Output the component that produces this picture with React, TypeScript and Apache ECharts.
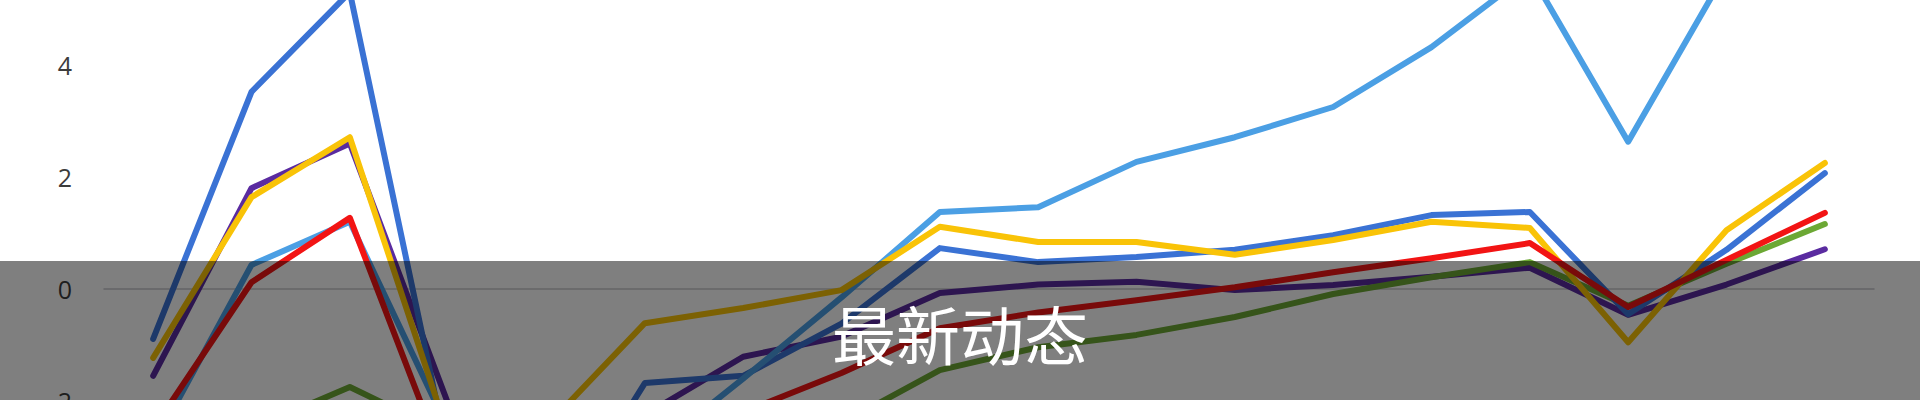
import React, { useEffect, useRef } from "react";
import * as echarts from "echarts";

const categories = ["1", "2", "3", "4", "5", "6", "7", "8", "9", "10", "11", "12", "13", "14", "15", "16", "17", "18"];

const purpleValues = [-1.55, 1.8, 2.6, -2.05, -2.6, -2.25, -1.21, -0.85, -0.07, 0.08, 0.13, -0.02, 0.07, 0.22, 0.38, -0.46, 0.08, 0.71];
const greenValues = [-2.8, -2.5, -1.75, -2.6, -2.9, -2.8, -2.6, -2.4, -1.45, -1.04, -0.82, -0.5, -0.09, 0.21, 0.48, -0.3, 0.45, 1.16];
const darkBlueValues = [-0.89, 3.52, 5.3, -3.0, -4.5, -1.68, -1.55, -0.62, 0.73, 0.48, 0.57, 0.7, 0.96, 1.32, 1.375, -0.45, 0.7, 2.07];
const lightBlueValues = [-2.8, 0.43, 1.2, -2.5, -3.2, -3.0, -1.6, -0.15, 1.375, 1.46, 2.27, 2.71, 3.25, 4.32, 5.65, 2.63, 5.68, 6.2];
const yellowValues = [-1.23, 1.64, 2.71, -2.6, -2.45, -0.61, -0.34, -0.02, 1.11, 0.84, 0.84, 0.61, 0.875, 1.2, 1.09, -0.95, 1.05, 2.25];
const redValues = [-2.5, 0.12, 1.27, -3.3, -3.3, -2.8, -2.2, -1.5, -0.7, -0.42, -0.2, 0.03, 0.3, 0.55, 0.82, -0.32, 0.52, 1.36];

const visibleTickLabels = [-2, 0, 2, 4];

const seriesDefs = [
  { name: "紫", color: "#5a2ba0", data: purpleValues },
  { name: "绿", color: "#6ca834", data: greenValues },
  { name: "深蓝", color: "#3a72d4", data: darkBlueValues },
  { name: "浅蓝", color: "#4b9fe4", data: lightBlueValues },
  { name: "黄", color: "#f9c307", data: yellowValues },
  { name: "红", color: "#f21414", data: redValues },
];

const overlayTitle = "最新动态";

export default function App() {
  const ref = useRef<HTMLDivElement>(null);

  useEffect(() => {
    if (!ref.current) return;
    const chart = echarts.init(ref.current, null, { renderer: "svg" });
    chart.setOption({
      animation: false,
      backgroundColor: "#ffffff",
      grid: {
        left: 104,
        right: 46,
        top: -47,
        bottom: -113,
        containLabel: false,
        outerBoundsMode: "none",
      },
      xAxis: {
        type: "category",
        data: categories,
        boundaryGap: true,
        axisLine: { show: true, onZero: true, lineStyle: { color: "#c8c8cc", width: 1.5 } },
        axisTick: { show: false },
        axisLabel: { show: false },
        splitLine: { show: false },
      },
      yAxis: {
        type: "value",
        min: -4,
        max: 6,
        interval: 2,
        axisLine: { show: false },
        axisTick: { show: false },
        splitLine: { show: false },
        axisLabel: {
          color: "#3c3c3c",
          fontSize: 25,
          fontFamily: "Open Sans",
          margin: 32,
          formatter: (v: number) => (visibleTickLabels.indexOf(v) >= 0 ? String(v) : ""),
        },
      },
      series: seriesDefs.map((s, i) => ({
        name: s.name,
        type: "line",
        data: s.data,
        symbol: "none",
        showSymbol: false,
        z: 2 + i,
        lineStyle: { color: s.color, width: 6, cap: "round", join: "round" },
        itemStyle: { color: s.color },
      })),
      graphic: [
        {
          type: "rect",
          z: 100,
          shape: { x: 0, y: 261, width: 1920, height: 139 },
          style: { fill: "rgba(0,0,0,0.5)" },
        },
        {
          type: "text",
          z: 101,
          x: 960,
          y: 332,
          style: {
            text: overlayTitle,
            fill: "#ffffff",
            fontSize: 64,
            fontFamily: "Noto Sans CJK SC",
            fontWeight: "normal",
            textAlign: "center",
            textVerticalAlign: "middle",
            align: "center",
            verticalAlign: "middle",
          },
        },
      ],
    });
    return () => chart.dispose();
  }, []);

  return (
    <div
      ref={ref}
      style={{ position: "fixed", left: 0, top: 0, width: 1920, height: 400, background: "#ffffff" }}
    />
  );
}
